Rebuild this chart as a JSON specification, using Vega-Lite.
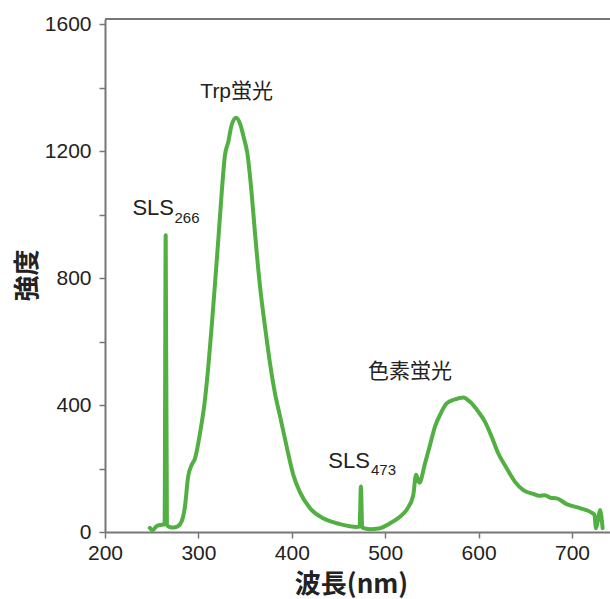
{
  "$schema": "https://vega.github.io/schema/vega-lite/v6.json",
  "autosize": "none",
  "padding": {"left": 105, "top": 19, "right": 0, "bottom": 67},
  "width": 505,
  "height": 513,
  "config": {
    "view": {"stroke": null},
    "font": "Liberation Sans, Noto Sans CJK JP",
    "axis": {
      "domainColor": "#777777",
      "domainWidth": 2,
      "tickColor": "#777777",
      "tickWidth": 1.5,
      "tickSize": 6,
      "labelColor": "#222222",
      "labelFont": "Liberation Sans",
      "labelFontSize": 21,
      "grid": false,
      "titleFont": "Noto Sans CJK JP",
      "titleFontWeight": "bold",
      "titleFontSize": 26,
      "titleColor": "#222222"
    }
  },
  "datasets": {
    "spectrum": [
      {"nm": 248, "I": 13}, {"nm": 251, "I": 6}, {"nm": 255, "I": 18}, {"nm": 259, "I": 22},
      {"nm": 263.8, "I": 25}, {"nm": 265, "I": 935}, {"nm": 266.3, "I": 22},
      {"nm": 270, "I": 15}, {"nm": 273, "I": 14}, {"nm": 278, "I": 18}, {"nm": 282, "I": 33},
      {"nm": 285.6, "I": 80}, {"nm": 289, "I": 174}, {"nm": 292.8, "I": 211}, {"nm": 296.4, "I": 232},
      {"nm": 301.7, "I": 311}, {"nm": 307, "I": 416}, {"nm": 310.6, "I": 521}, {"nm": 314.2, "I": 647},
      {"nm": 317.8, "I": 783}, {"nm": 321.3, "I": 920}, {"nm": 324.9, "I": 1067}, {"nm": 328.5, "I": 1188},
      {"nm": 332, "I": 1229}, {"nm": 335.6, "I": 1282}, {"nm": 340.3, "I": 1305}, {"nm": 344.5, "I": 1287},
      {"nm": 348.8, "I": 1240}, {"nm": 352.4, "I": 1193}, {"nm": 357, "I": 1067}, {"nm": 360.6, "I": 941},
      {"nm": 366, "I": 773}, {"nm": 371.3, "I": 647}, {"nm": 376.7, "I": 531}, {"nm": 382, "I": 437},
      {"nm": 387.4, "I": 365}, {"nm": 394.5, "I": 269}, {"nm": 401.6, "I": 180}, {"nm": 408.8, "I": 125},
      {"nm": 419.5, "I": 75}, {"nm": 433.7, "I": 43}, {"nm": 451.6, "I": 25}, {"nm": 469.5, "I": 16},
      {"nm": 472.6, "I": 17}, {"nm": 474, "I": 143}, {"nm": 475.4, "I": 14}, {"nm": 483.7, "I": 9},
      {"nm": 494.4, "I": 12}, {"nm": 505, "I": 27}, {"nm": 515.8, "I": 48}, {"nm": 523, "I": 70},
      {"nm": 530, "I": 115}, {"nm": 533, "I": 180}, {"nm": 536.6, "I": 155}, {"nm": 542.6, "I": 216},
      {"nm": 548, "I": 274}, {"nm": 553.3, "I": 332}, {"nm": 558.7, "I": 369}, {"nm": 565.8, "I": 405},
      {"nm": 574.7, "I": 418}, {"nm": 583.6, "I": 424}, {"nm": 590.8, "I": 410}, {"nm": 599.7, "I": 379},
      {"nm": 606.9, "I": 347}, {"nm": 614, "I": 300}, {"nm": 621, "I": 248}, {"nm": 630, "I": 201},
      {"nm": 639, "I": 158}, {"nm": 647.9, "I": 132}, {"nm": 658.6, "I": 120}, {"nm": 665, "I": 114},
      {"nm": 671, "I": 116}, {"nm": 677, "I": 108}, {"nm": 683.6, "I": 106}, {"nm": 694.3, "I": 88},
      {"nm": 708.6, "I": 75}, {"nm": 721, "I": 61},
      {"nm": 724, "I": 55}, {"nm": 725.7, "I": 12}, {"nm": 728, "I": 40}, {"nm": 730, "I": 69},
      {"nm": 732.8, "I": 12}
    ],
    "jp": [
      {"nm": 341, "I": 1387, "text": "Trp蛍光"},
      {"nm": 526.5, "I": 504, "text": "色素蛍光"}
    ],
    "sls": [
      {"nm": 273.9, "I": 1022, "text": "SLS"},
      {"nm": 483.7, "I": 225, "text": "SLS"}
    ],
    "subs": [
      {"nm": 274.4, "I": 989, "text": "266"},
      {"nm": 484.8, "I": 194, "text": "473"}
    ],
    "frame": [{"I": 1616}]
  },
  "layer": [
    {
      "data": {"name": "frame"},
      "mark": {"type": "rule", "color": "#777777", "strokeWidth": 2},
      "encoding": {
        "y": {"field": "I", "type": "quantitative", "scale": {"domain": [0, 1616]}}
      }
    },
    {
      "data": {"name": "spectrum"},
      "mark": {"type": "line", "color": "#52b043", "strokeWidth": 4, "strokeCap": "round", "strokeJoin": "round", "interpolate": "monotone", "clip": true},
      "encoding": {
        "x": {
          "field": "nm", "type": "quantitative",
          "scale": {"domain": [200, 740.7], "nice": false, "zero": false},
          "axis": {
            "title": "波長(nm)",
            "values": [200, 300, 400, 500, 600, 700],
            "format": "d",
            "labelPadding": 4,
            "labelFlush": false,
            "titleX": 246,
            "titleY": 52,
            "titleBaseline": "middle",
            "titleAlign": "center"
          }
        },
        "y": {
          "field": "I", "type": "quantitative",
          "scale": {"domain": [0, 1616], "nice": false},
          "axis": {
            "title": "強度",
            "values": [0, 200, 400, 600, 800, 1000, 1200, 1400, 1600],
            "format": "d",
            "labelExpr": "datum.value % 400 === 0 ? datum.label : ''",
            "labelPadding": 8,
            "labelFlush": false,
            "titleAngle": -90,
            "titleX": -78,
            "titleY": 256,
            "titleAlign": "center",
            "titleBaseline": "middle"
          }
        }
      }
    },
    {
      "data": {"name": "jp"},
      "mark": {"type": "text", "fontSize": 21, "color": "#222222", "baseline": "middle", "align": "center"},
      "encoding": {
        "x": {"field": "nm", "type": "quantitative"},
        "y": {"field": "I", "type": "quantitative"},
        "text": {"field": "text"}
      }
    },
    {
      "data": {"name": "sls"},
      "mark": {"type": "text", "fontSize": 22, "color": "#222222", "baseline": "middle", "align": "right"},
      "encoding": {
        "x": {"field": "nm", "type": "quantitative"},
        "y": {"field": "I", "type": "quantitative"},
        "text": {"field": "text"}
      }
    },
    {
      "data": {"name": "subs"},
      "mark": {"type": "text", "fontSize": 15, "color": "#222222", "baseline": "middle", "align": "left"},
      "encoding": {
        "x": {"field": "nm", "type": "quantitative"},
        "y": {"field": "I", "type": "quantitative"},
        "text": {"field": "text"}
      }
    }
  ]
}
